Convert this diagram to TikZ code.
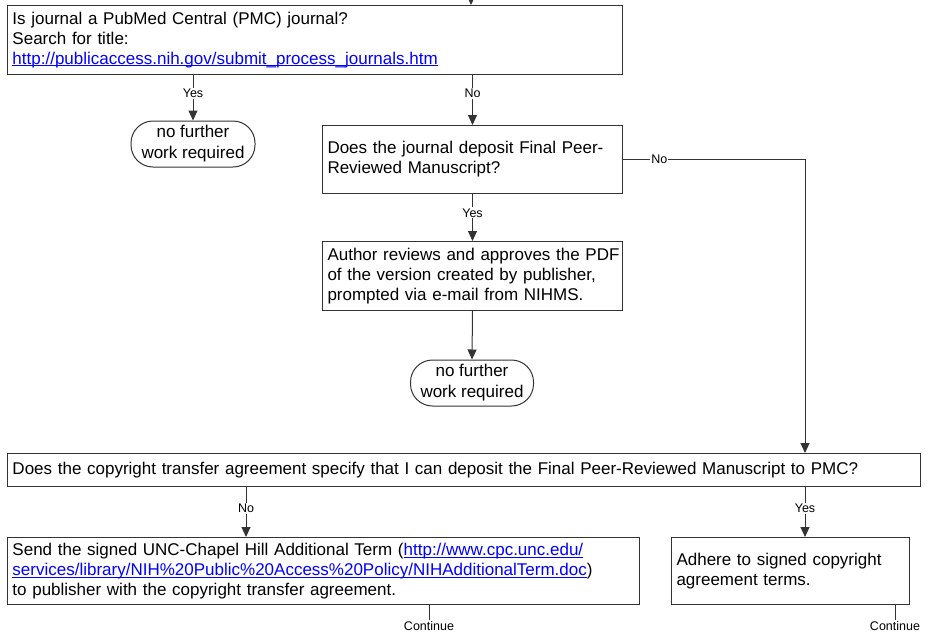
\documentclass[tikz,border=0pt]{standalone}
\usepackage{fontspec}
\setmainfont{Liberation Sans}
\usetikzlibrary{arrows.meta}
\newcommand\lnk[1]{\textcolor{blue}{\setbox0\hbox{#1}\rlap{\rule[-2pt]{\wd0}{0.9pt}}\box0}}
\begin{document}
\begin{tikzpicture}[x=1pt,y=-1pt,
  box/.style={draw=black!80, line width=1pt, fill=white, anchor=north west, align=left,
    inner xsep=5pt, inner ysep=0pt, font=\fontsize{17}{20}\selectfont},
  term/.style={draw=black!80, line width=1pt, rounded corners=22pt, minimum width=124pt,
    minimum height=46pt, align=center, inner sep=0pt, font=\fontsize{17}{21}\selectfont},
  conn/.style={draw=black!80, line width=1pt},
  arr/.style={conn, -{Triangle[length=10pt,width=9pt]}},
  lbl/.style={fill=white, inner sep=1pt, font=\fontsize{12.5}{14}\selectfont}]
\useasboundingbox (0,0) rectangle (934,635);

\node[box, text width=605pt, minimum height=69pt] (b1) at (7,5)
  {Is journal a PubMed Central (PMC) journal?\\Search for title:\\\lnk{http://publicaccess.nih.gov/submit\_process\_journals.htm}};
\node[term] (t1) at (193,144) {no further\\work required};
\node[box, text width=290pt, minimum height=68pt] (b2) at (322,125)
  {Does the journal deposit Final Peer-\\Reviewed Manuscript?};
\node[box, text width=290pt, minimum height=69pt] (b3) at (322,241)
  {\mbox{Author reviews and approves the PDF}\\of the version created by publisher,\\prompted via e-mail from NIHMS.};
\node[term, minimum width=123pt] (t2) at (472,383) {no further\\work required};
\node[box, text width=903pt, minimum height=33pt] (b4) at (7,453)
  {Does the copyright transfer agreement specify that I can deposit the Final Peer-Reviewed Manuscript to PMC?};
\node[box, text width=622pt, minimum height=67pt] (b5) at (7,537)
  {Send the signed UNC-Chapel Hill Additional Term (\lnk{http://www.cpc.unc.edu/}\\\lnk{services/library/NIH\%20Public\%20Access\%20Policy/NIHAdditionalTerm.doc})\\to publisher with the copyright transfer agreement.};
\node[box, text width=228pt, minimum height=67pt] (b6) at (671,537)
  {Adhere to signed copyright\\agreement terms.};

\node[lbl, fill=none] (c1) at (429,626) {Continue};
\node[lbl, fill=none] (c2) at (895,626) {Continue};

\coordinate (top) at (471,0);
\coordinate (xno) at (246,0);
\coordinate (xyes) at (805,0);

\draw[arr] (top) -- (top |- b1.north);
\draw[arr] (b1.south -| t1.north) -- node[lbl, pos=0.4] {Yes} (t1.north);
\draw[arr] (b1.south -| b2.north) -- node[lbl, pos=0.37] {No} (b2.north);
\draw[arr] (b2.south) -- node[lbl, pos=0.4] {Yes} (b3.north);
\draw[arr] (b3.south) -- (t2.north);
\draw[arr] (b2.east) -| node[lbl, pos=0.1] {No} (b4.north -| xyes);
\draw[arr] (b4.south -| xno) -- node[lbl, pos=0.43] {No} (b5.north -| xno);
\draw[arr] (b4.south -| xyes) -- node[lbl, pos=0.43] {Yes} (b6.north -| xyes);
\draw[conn] (b5.south -| c1) -- (c1.north);
\draw[conn] (b6.south -| c2) -- (c2.north);
\end{tikzpicture}
\end{document}
